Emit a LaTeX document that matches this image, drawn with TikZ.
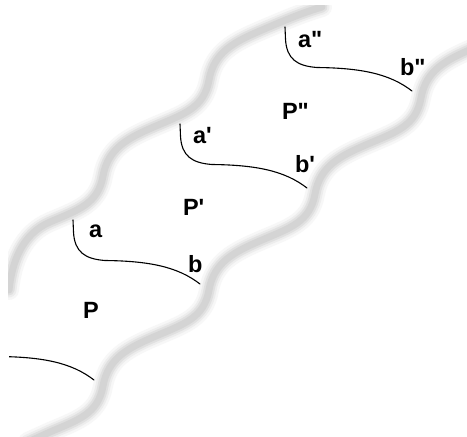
\documentclass[tikz,border=0pt]{standalone}
\usepackage{fontspec}
\newfontfamily\labfont{Liberation Sans}
\tikzset{
  curve/.style={draw=black, line width=1.1pt, line cap=round, line join=round},
  lab/.style={anchor=base west, inner sep=0pt, outer sep=0pt,
    font=\labfont\bfseries\fontsize{23.5}{24}\selectfont},
}
\begin{document}
\begin{tikzpicture}[x=1pt, y=-1pt]
\useasboundingbox (0,0) rectangle (467,437);
\fill[white] (0,0) rectangle (467,437);
% gray blurred wavy bands
\begin{scope}
\clip (8,5) rectangle (467,437);
\foreach \w/\c in {20/3,15/7,11/12,7/17}{
  \draw[line width=\w pt, draw=black!\c, line cap=round, line join=round]
    (28,442) -- (50,432)
    .. controls (78,420) and (98,414) .. (103,386)
    .. controls (108,358) and (128,348) .. (156,336)
    .. controls (184,324) and (204,318) .. (209,290)
    .. controls (214,262) and (234,252) .. (262,240)
    .. controls (290,228) and (310,222) .. (315,194)
    .. controls (320,166) and (340,156) .. (368,144)
    .. controls (396,132) and (416,126) .. (421,98)
    .. controls (426,70) and (446,60) .. (474,48);
  \draw[line width=\w pt, draw=black!\c, line cap=round, line join=round]
    (9,290) .. controls (12,262) and (22,234) .. (50,222)
    .. controls (78,210) and (98,204) .. (103,176)
    .. controls (108,148) and (128,138) .. (156,126)
    .. controls (184,114) and (204,108) .. (209,80)
    .. controls (214,52) and (234,42) .. (262,30)
    .. controls (290,18) and (305,12) .. (322,7);
}
\end{scope}
% black boundary curves
\foreach \dx/\dy in {0/0,107/-96,212/-193}{
  \draw[curve, shift={(\dx,\dy)}]
    (73,220) -- (73.5,232) .. controls (74.5,252) and (85,259) .. (105,260.5)
    .. controls (150,261) and (178,267) .. (200,284);
}
\begin{scope}
\clip (9,0) rectangle (467,437);
\draw[curve, shift={(-106,96)}]
    (73,220) -- (73.5,232) .. controls (74.5,252) and (85,259) .. (105,260.5)
    .. controls (150,261) and (178,267) .. (200,284);
\end{scope}
% labels
\node[lab] (a)   at (89,237)  {a};
\node[lab] (b)   at (188,272) {b};
\node[lab] (P)   at (83,318)  {P};
\node[lab] (a1)  at (193,143) {a\textquotesingle};
\node[lab] (b1)  at (295,172) {b\textquotesingle};
\node[lab] (P1)  at (183,215) {P\textquotesingle};
\node[lab] (a2)  at (298,47)  {a\textquotedbl};
\node[lab] (b2)  at (400,75)  {b\textquotedbl};
\node[lab] (P2)  at (282,119) {P\textquotedbl};
\end{tikzpicture}
\end{document}
